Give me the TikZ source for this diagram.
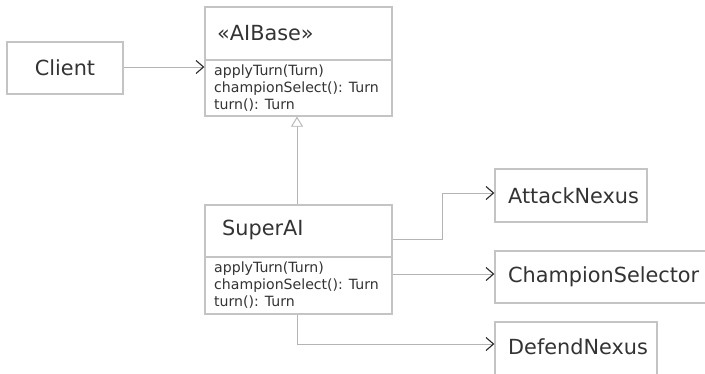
\documentclass[tikz,border=0pt]{standalone}
\usepackage{fontspec}
\setmainfont{DejaVu Sans}
\usetikzlibrary{arrows.meta,shadows,calc}
\definecolor{boxline}{HTML}{C4C4C4}
\definecolor{boxshade}{HTML}{D6D6D6}
\definecolor{wire}{HTML}{B4B4B4}
\definecolor{ink}{HTML}{333333}
\definecolor{tip}{HTML}{2A2A2A}
\tikzset{
  classbox/.style={draw=boxline, line width=1.3pt, fill=white, inner sep=0pt,
    general shadow={shadow xshift=1pt, shadow yshift=-1pt, fill=boxshade}},
  clsname/.style={text=ink, font=\fontsize{20.8}{24}\selectfont, inner sep=0pt},
  ops/.style={text=ink, font=\fontsize{14.1}{17}\selectfont, align=left, inner sep=0pt},
  wireline/.style={draw=wire, line width=0.9pt},
  uses/.style={wireline, -{Straight Barb[length=7.5pt,width=13pt,color=tip,line width=1.1pt]}},
  extends/.style={wireline, -{Triangle[open,length=10pt,width=12pt,color=wire,fill=white,line width=0.9pt]}},
}
\begin{document}
\begin{tikzpicture}[x=1pt,y=-1pt]
\useasboundingbox (0,0) rectangle (705,373);
\fill[white] (0,0) rectangle (705,373);
\begin{scope}
\clip (0,0) rectangle (705,373);

% Client
\node[classbox, minimum width=116pt, minimum height=52pt] (Client) at (65,68) {};
\node[clsname] (ClientTxt) at (65,68) {Client};

% Abstract base class
\node[classbox, minimum width=187pt, minimum height=109pt] (AIBase) at (298.5,61.5) {};
\draw[draw=boxline, line width=1.3pt] (AIBase.west |- 0,60) -- (AIBase.east |- 0,60);
\node[clsname, anchor=west] (AIBaseTxt) at (217,33) {«AIBase»};
\node[ops, anchor=north west] (AIBaseOps) at (214,65) {applyTurn(Turn)\\championSelect(): Turn\\turn(): Turn};

% Concrete AI
\node[classbox, minimum width=187pt, minimum height=109pt] (SuperAI) at (298.5,259.5) {};
\draw[draw=boxline, line width=1.3pt] (SuperAI.west |- 0,257) -- (SuperAI.east |- 0,257);
\node[clsname, anchor=west] (SuperAITxt) at (222,230) {SuperAI};
\node[ops, anchor=north west] (SuperAIOps) at (214,262) {applyTurn(Turn)\\championSelect(): Turn\\turn(): Turn};

% Collaborators
\node[classbox, minimum width=152pt, minimum height=53pt] (Attack) at (571,195.5) {};
\node[clsname, anchor=west] (AttackTxt) at (508,195.5) {AttackNexus};
\node[classbox, minimum width=211pt, minimum height=52pt] (Champion) at (600.5,277) {};
\node[clsname, anchor=west] (ChampionTxt) at (508,277) {ChampionSelector};
\node[classbox, minimum width=162pt, minimum height=60pt] (Defend) at (576,352) {};
\node[clsname, anchor=west] (DefendTxt) at (508,347) {DefendNexus};

% Connectors
\draw[uses] (Client.east |- 0,67) -- (AIBase.west |- 0,67);
\draw[extends] (SuperAI.north -| 297,0) -- (AIBase.south -| 297,0);
\draw[uses] (SuperAI.east |- 0,239) -- (442,239) |- (Attack.west |- 0,193);
\draw[uses] (SuperAI.east |- 0,274) -- (Champion.west |- 0,274);
\draw[uses] (SuperAI.south -| 297,0) |- (Defend.west |- 0,344);
\end{scope}
\end{tikzpicture}
\end{document}
